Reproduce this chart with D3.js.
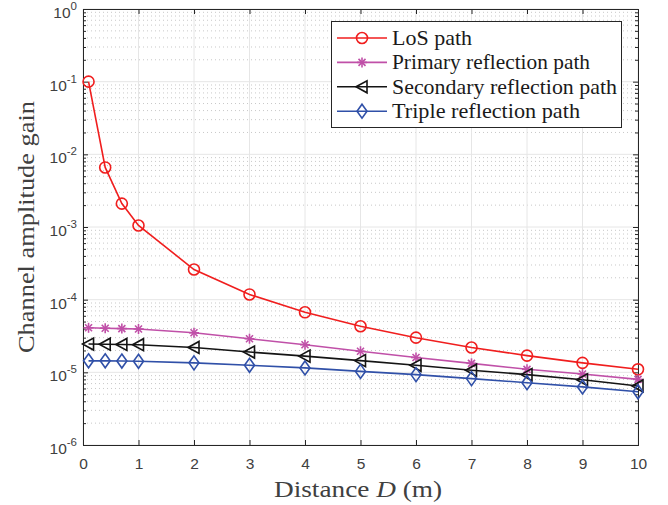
<!DOCTYPE html>
<html><head><meta charset="utf-8">
<script src="https://cdn.jsdelivr.net/npm/d3@7"></script>
<style>body{margin:0;background:#fff}svg{display:block}</style>
</head><body>
<svg id="c" width="668" height="505"></svg>
<script>
const distances = [0.1, 0.4, 0.7, 1, 2, 3, 4, 5, 6, 7, 8, 9, 10];
const losPath = [0.1, 0.0066, 0.0021, 0.00105, 2.6e-4, 1.18e-4, 6.7e-5, 4.3e-5, 3.0e-5, 2.2e-5, 1.7e-5, 1.35e-5, 1.1e-5];
const primaryPath = [4.1e-5, 4.05e-5, 4.0e-5, 3.95e-5, 3.5e-5, 2.9e-5, 2.4e-5, 1.95e-5, 1.6e-5, 1.33e-5, 1.1e-5, 9.5e-6, 8.0e-6];
const secondaryPath = [2.45e-5, 2.44e-5, 2.42e-5, 2.4e-5, 2.2e-5, 1.9e-5, 1.67e-5, 1.45e-5, 1.25e-5, 1.07e-5, 9.3e-6, 7.9e-6, 6.5e-6];
const triplePath = [1.44e-5, 1.44e-5, 1.43e-5, 1.42e-5, 1.35e-5, 1.25e-5, 1.15e-5, 1.03e-5, 9.3e-6, 8.2e-6, 7.2e-6, 6.3e-6, 5.4e-6];
const seriesNames = ["LoS path", "Primary reflection path", "Secondary reflection path", "Triple reflection path"];
const xTicks = [0,1,2,3,4,5,6,7,8,9,10];
const yExponents = [0,-1,-2,-3,-4,-5,-6];

const series = [
  {name: seriesNames[0], values: losPath, color: "#f01e1e", marker: "circle"},
  {name: seriesNames[1], values: primaryPath, color: "#c050a8", marker: "star"},
  {name: seriesNames[2], values: secondaryPath, color: "#141414", marker: "triangle"},
  {name: seriesNames[3], values: triplePath, color: "#3050a8", marker: "diamond"}
];

const svg = d3.select("#c");
const L = 83, R = 638, T = 9, B = 445;
const x = d3.scaleLinear().domain([0, 10]).range([L, R]);
const y = d3.scaleLog().domain([1e-6, 1]).range([B, T]);
const axisColor = "#262626";
const textColor = "#404040";
const sans = "Liberation Sans, Arial, Helvetica, sans-serif";
const serif = "Liberation Serif, Times New Roman, serif";

// minor grid (horizontal dotted)
const minorVals = [];
for (let e = -6; e < 0; e++) for (let m = 2; m <= 9; m++) minorVals.push(m * Math.pow(10, e));
const g = svg.append("g");
g.selectAll(".mg").data(minorVals).join("line")
  .attr("x1", L).attr("x2", R).attr("y1", d => y(d)).attr("y2", d => y(d))
  .attr("stroke", "#c8c8c8").attr("stroke-width", 1).attr("stroke-dasharray", "1,3");
// major grids
g.selectAll(".gx").data(xTicks).join("line")
  .attr("x1", d => x(d)).attr("x2", d => x(d)).attr("y1", T).attr("y2", B)
  .attr("stroke", "#e6e6e6").attr("stroke-width", 1);
g.selectAll(".gy").data(yExponents).join("line")
  .attr("x1", L).attr("x2", R).attr("y1", d => y(Math.pow(10, d))).attr("y2", d => y(Math.pow(10, d)))
  .attr("stroke", "#e6e6e6").attr("stroke-width", 1);

// axes with inward ticks
const axB = d3.axisBottom(x).tickValues(xTicks).tickSize(-5).tickPadding(13).tickFormat(d3.format("d"));
const axT = d3.axisTop(x).tickValues(xTicks).tickSize(-5).tickFormat("");
const axL = d3.axisLeft(y).tickValues(yExponents.map(e => Math.pow(10, e))).tickSize(-5).tickFormat("");
const axR = d3.axisRight(y).tickValues(yExponents.map(e => Math.pow(10, e))).tickSize(-5).tickFormat("");
const axLm = d3.axisLeft(y).tickValues(minorVals).tickSize(-3).tickFormat("");
const axRm = d3.axisRight(y).tickValues(minorVals).tickSize(-3).tickFormat("");

function style(sel) {
  sel.selectAll("path").attr("stroke", axisColor).attr("stroke-width", 1);
  sel.selectAll("line").attr("stroke", axisColor).attr("stroke-width", 1);
  sel.selectAll("text").attr("fill", textColor).style("font-family", sans).style("font-size", "15.5px");
}
style(svg.append("g").attr("transform", `translate(0,${B})`).call(axB));
style(svg.append("g").attr("transform", `translate(0,${T})`).call(axT));
style(svg.append("g").attr("transform", `translate(${L},0)`).call(axL));
style(svg.append("g").attr("transform", `translate(${R},0)`).call(axR));
style(svg.append("g").attr("transform", `translate(${L},0)`).call(axLm));
style(svg.append("g").attr("transform", `translate(${R},0)`).call(axRm));

// y tick labels with superscripts
const yl = svg.append("g");
yExponents.forEach(e => {
  const t = yl.append("text").attr("x", L - 6).attr("y", y(Math.pow(10, e)) + 9)
    .attr("text-anchor", "end").attr("fill", textColor)
    .style("font-family", sans).style("font-size", "15.5px");
  t.append("tspan").text("10");
  t.append("tspan").attr("dy", -8).style("font-size", "11.5px").text(String(e));
});

// marker drawing
function drawMarker(sel, type, color) {
  if (type === "circle") {
    sel.append("circle").attr("r", 5.5).attr("fill", "none").attr("stroke", color).attr("stroke-width", 1.6);
  } else if (type === "star") {
    const s = 5;
    [[-s,0,s,0],[0,-s,0,s],[-s*0.7,-s*0.7,s*0.7,s*0.7],[-s*0.7,s*0.7,s*0.7,-s*0.7]].forEach(p =>
      sel.append("line").attr("x1",p[0]).attr("y1",p[1]).attr("x2",p[2]).attr("y2",p[3])
        .attr("stroke", color).attr("stroke-width", 1.6));
  } else if (type === "triangle") {
    sel.append("path").attr("d", "M-6,0L5,-6L5,6Z").attr("fill", "none").attr("stroke", color).attr("stroke-width", 1.6);
  } else if (type === "diamond") {
    sel.append("path").attr("d", "M0,-7L5,0L0,7L-5,0Z").attr("fill", "none").attr("stroke", color).attr("stroke-width", 1.6);
  }
}

const line = d3.line().x(d => x(d[0])).y(d => y(d[1]));
series.forEach(s => {
  const pts = distances.map((d, i) => [d, s.values[i]]);
  svg.append("path").datum(pts).attr("d", line).attr("fill", "none")
    .attr("stroke", s.color).attr("stroke-width", 1.6);
  pts.forEach(p => {
    const m = svg.append("g").attr("transform", `translate(${x(p[0])},${y(p[1])})`);
    drawMarker(m, s.marker, s.color);
  });
});

// legend
const lg = svg.append("g");
lg.append("rect").attr("x", 331.5).attr("y", 21.5).attr("width", 290).attr("height", 106)
  .attr("fill", "#fff").attr("stroke", axisColor).attr("stroke-width", 1);
const legendWidths = [80, 198, 225, 188];
series.forEach((s, i) => {
  const yy = 38 + i * 24.4;
  lg.append("line").attr("x1", 337).attr("x2", 387).attr("y1", yy).attr("y2", yy)
    .attr("stroke", s.color).attr("stroke-width", 1.6);
  drawMarker(lg.append("g").attr("transform", `translate(362,${yy})`), s.marker, s.color);
  lg.append("text").attr("x", 392).attr("y", yy + 7).text(s.name)
    .attr("textLength", legendWidths[i]).attr("lengthAdjust", "spacingAndGlyphs")
    .attr("fill", "#1a1a1a").style("font-family", serif).style("font-size", "22px");
});

// axis titles
svg.append("text").attr("x", 274).attr("y", 497)
  .attr("textLength", 168).attr("lengthAdjust", "spacingAndGlyphs")
  .attr("fill", textColor).style("font-family", serif).style("font-size", "24px")
  .html('Distance <tspan font-style="italic">D</tspan> (m)');
svg.append("text").attr("transform", "translate(34,227) rotate(-90)").attr("text-anchor", "middle")
  .attr("textLength", 252).attr("lengthAdjust", "spacingAndGlyphs")
  .attr("fill", textColor).style("font-family", serif).style("font-size", "24px")
  .text("Channel amplitude gain");
</script>
</body></html>
